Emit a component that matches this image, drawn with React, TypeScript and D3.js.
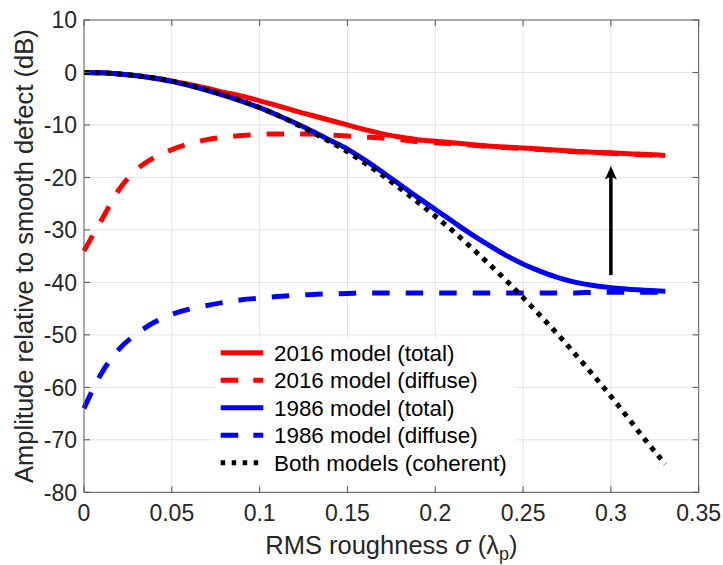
import React from "react";
import * as d3 from "d3";

// RMS roughness sampling (in units of lambda_p)
const sigma = [
  0, 0.01, 0.02, 0.03, 0.04, 0.05, 0.06, 0.07, 0.08, 0.09, 0.1, 0.11, 0.12,
  0.13, 0.14, 0.15, 0.16, 0.17, 0.18, 0.19, 0.2, 0.21, 0.22, 0.23, 0.24, 0.25,
  0.26, 0.27, 0.28, 0.29, 0.3, 0.31, 0.32, 0.331,
];

// Amplitudes relative to smooth defect (dB)
const total2016 = [
  0, -0.07, -0.27, -0.6, -1.05, -1.6, -2.3, -3.0, -3.8, -4.5, -5.4, -6.3, -7.3,
  -8.2, -9.1, -10.0, -10.9, -11.7, -12.3, -12.8, -13.1, -13.4, -13.7, -14.0,
  -14.2, -14.4, -14.6, -14.8, -15.0, -15.2, -15.3, -15.5, -15.6, -15.8,
];
const diffuse2016 = [
  -34.0, -28.1, -22.3, -18.5, -16.2, -14.7, -13.6, -12.8, -12.3, -12.0, -11.8,
  -11.7, -11.7, -11.7, -11.9, -12.1, -12.3, -12.5, -12.8, -13.2, -13.4, -13.6,
  -13.8, -14.1, -14.3, -14.5, -14.7, -14.9, -15.1, -15.3, -15.4, -15.6, -15.7,
  -15.9,
];
const total1986 = [
  0, -0.07, -0.27, -0.62, -1.1, -1.7, -2.5, -3.4, -4.4, -5.5, -6.7, -8.1, -9.6,
  -11.2, -12.9, -14.6, -16.7, -19.0, -21.4, -23.8, -26.1, -28.4, -30.7, -32.8,
  -34.8, -36.5, -37.9, -39.1, -40.0, -40.6, -41.0, -41.3, -41.5, -41.7,
];
const diffuse1986 = [
  -64.0, -57.3, -52.7, -49.8, -47.6, -46.1, -45.1, -44.4, -43.8, -43.3, -43.0,
  -42.7, -42.5, -42.3, -42.2, -42.1, -42.0, -42.0, -42.0, -42.0, -42.0, -42.0,
  -42.0, -42.0, -42.0, -42.0, -42.0, -42.0, -42.0, -41.9, -41.9, -41.9, -41.9,
  -41.9,
];
const coherent = [
  0, -0.07, -0.27, -0.6, -1.05, -1.65, -2.4, -3.3, -4.3, -5.4, -6.7, -8.1, -9.7,
  -11.4, -13.2, -15.1, -17.3, -19.6, -22.1, -24.7, -27.4, -30.2, -33.2, -36.3,
  -39.5, -42.9, -46.4, -50.0, -53.8, -57.7, -61.7, -65.9, -70.2, -74.6,
];

const xTicks = [0, 0.05, 0.1, 0.15, 0.2, 0.25, 0.3, 0.35];
const yTicks = [-80, -70, -60, -50, -40, -30, -20, -10, 0, 10];

// Arrow annotation: from 1986 total up to 2016 total at sigma = 0.3
const arrowX = 0.3;
const arrowFrom = -38.6;
const arrowTo = -17.8;

const seriesNames = [
  "2016 model (total)",
  "2016 model (diffuse)",
  "1986 model (total)",
  "1986 model (diffuse)",
  "Both models (coherent)",
];

const W = 723;
const H = 565;
const left = 84;
const right = 698.7;
const top = 20;
const bottom = 492.3;

const font = "'Liberation Sans', Arial, Helvetica, sans-serif";
const textColor = "#262626";

export default function App() {
  const x = d3.scaleLinear().domain([0, 0.35]).range([left, right]);
  const y = d3.scaleLinear().domain([-80, 10]).range([bottom, top]);

  const line = (vals: number[]) =>
    d3
      .line<number>()
      .x((_, i) => x(sigma[i]))
      .y((v) => y(v))
      .curve(d3.curveMonotoneX)(vals) as string;

  const styles = [
    { data: total2016, color: "#ff0000", dash: undefined as string | undefined },
    { data: diffuse2016, color: "#ff0000", dash: "17.5 16" },
    { data: total1986, color: "#0000ff", dash: undefined },
    { data: diffuse1986, color: "#0000ff", dash: "17.5 16" },
    { data: coherent, color: "#000000", dash: "5 6" },
  ];

  const ax = x(arrowX);
  const ayTail = y(arrowFrom);
  const ayTip = y(arrowTo);
  const headLen = 13.5;
  const headHalf = 6;

  const legX0 = 220.7;
  const legX1 = 263.3;
  const legTextX = 274;
  const legY0 = 352.7;
  const legStep = 27.5;

  return (
    <svg
      width={W}
      height={H}
      viewBox={`0 0 ${W} ${H}`}
      style={{ position: "absolute", left: 0, top: 0, background: "#fff" }}
    >
      <rect x={0} y={0} width={W} height={H} fill="#fff" />

      {/* grid */}
      <g stroke="#e3e3e3" strokeWidth={1}>
        {xTicks.slice(1, -1).map((t) => (
          <line key={"gx" + t} x1={x(t)} x2={x(t)} y1={top} y2={bottom} />
        ))}
        {yTicks.slice(1, -1).map((t) => (
          <line key={"gy" + t} x1={left} x2={right} y1={y(t)} y2={y(t)} />
        ))}
      </g>

      {/* data lines */}
      <g fill="none">
        {styles.map((s, i) => (
          <path
            key={i}
            d={line(s.data)}
            stroke={s.color}
            strokeWidth={5}
            strokeDasharray={s.dash}
            strokeLinecap="butt"
            strokeLinejoin="round"
          />
        ))}
      </g>

      {/* arrow */}
      <line
        x1={ax}
        x2={ax}
        y1={ayTail}
        y2={ayTip + headLen - 4}
        stroke="#000"
        strokeWidth={3.5}
      />
      <path
        d={`M${ax},${ayTip} L${ax - headHalf},${ayTip + headLen} L${ax},${
          ayTip + headLen - 3
        } L${ax + headHalf},${ayTip + headLen} Z`}
        fill="#000"
      />

      {/* legend */}
      <rect x={215} y={338} width={300} height={149} fill="#fff" />
      {seriesNames.map((name, i) => {
        const ly = legY0 + i * legStep;
        const s = styles[i];
        return (
          <g key={name}>
            <line
              x1={legX0}
              x2={legX1}
              y1={ly}
              y2={ly}
              stroke={s.color}
              strokeWidth={5}
              strokeDasharray={i === 4 ? "4.5 6.5" : s.dash ? "17.6 15" : undefined}
            />
            <text
              x={legTextX}
              y={ly}
              dy="0.36em"
              fontFamily={font}
              fontSize={22.4}
              fill="#000"
            >
              {name}
            </text>
          </g>
        );
      })}

      {/* axes box */}
      <rect
        x={left}
        y={top}
        width={right - left}
        height={bottom - top}
        fill="none"
        stroke="#555"
        strokeWidth={1}
      />
      <g stroke="#555" strokeWidth={1}>
        {xTicks.map((t) => (
          <g key={"tx" + t}>
            <line x1={x(t)} x2={x(t)} y1={bottom} y2={bottom - 6} />
            <line x1={x(t)} x2={x(t)} y1={top} y2={top + 6} />
          </g>
        ))}
        {yTicks.map((t) => (
          <g key={"ty" + t}>
            <line x1={left} x2={left + 6} y1={y(t)} y2={y(t)} />
            <line x1={right} x2={right - 6} y1={y(t)} y2={y(t)} />
          </g>
        ))}
      </g>

      {/* tick labels */}
      <g fontFamily={font} fontSize={23} fill={textColor}>
        {xTicks.map((t) => (
          <text key={"lx" + t} x={x(t)} y={521} textAnchor="middle">
            {String(t)}
          </text>
        ))}
        {yTicks.map((t) => (
          <text
            key={"ly" + t}
            x={77}
            y={y(t)}
            dy="0.36em"
            textAnchor="end"
          >
            {String(t)}
          </text>
        ))}
      </g>

      {/* axis labels */}
      <text
        x={(left + right) / 2}
        y={554}
        textAnchor="middle"
        fontFamily={font}
        fontSize={25.5}
        fill={textColor}
      >
        RMS roughness <tspan fontStyle="italic">σ</tspan> (λ
        <tspan fontSize={18} dy={6}>
          p
        </tspan>
        <tspan dy={-6}>)</tspan>
      </text>
      <text
        transform={`translate(33.3, ${(top + bottom) / 2}) rotate(-90)`}
        textAnchor="middle"
        fontFamily={font}
        fontSize={25.5}
        fill={textColor}
      >
        Amplitude relative to smooth defect (dB)
      </text>
    </svg>
  );
}
